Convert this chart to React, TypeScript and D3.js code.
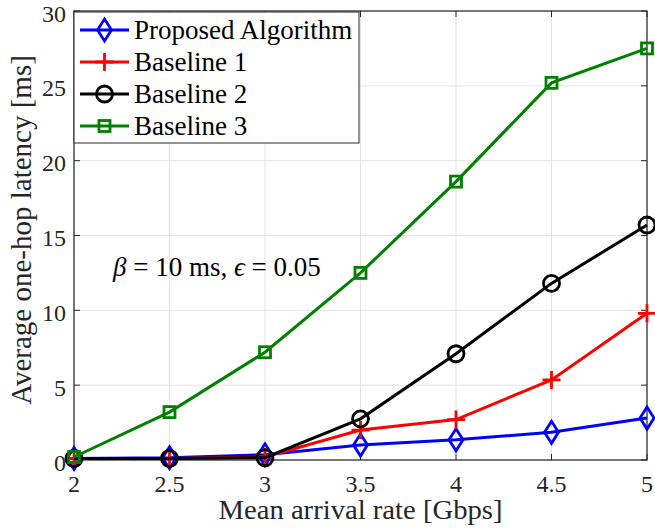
import React from "react";
import * as d3 from "d3";

const xValues = [2, 2.5, 3, 3.5, 4, 4.5, 5];
const proposed = [0.1, 0.15, 0.35, 1.0, 1.35, 1.85, 2.8];
const baseline1 = [0.1, 0.1, 0.2, 2.0, 2.7, 5.35, 9.8];
const baseline2 = [0.1, 0.1, 0.15, 2.75, 7.1, 11.8, 15.7];
const baseline3 = [0.2, 3.2, 7.2, 12.5, 18.6, 25.2, 27.5];
const seriesNames = ["Proposed Algorithm", "Baseline 1", "Baseline 2", "Baseline 3"];
const xTicks = [2, 2.5, 3, 3.5, 4, 4.5, 5];
const yTicks = [0, 5, 10, 15, 20, 25, 30];

const W = 655, H = 528;
const L = 74, R = 647, T = 11, B = 460;
const font = "'Liberation Serif', 'Times New Roman', serif";

const x = d3.scaleLinear().domain([2, 5]).range([L, R]);
const y = d3.scaleLinear().domain([0, 30]).range([B, T]);

const series = [
  { name: seriesNames[0], values: proposed, color: "#0000ff", marker: "diamond" },
  { name: seriesNames[1], values: baseline1, color: "#ff0000", marker: "plus" },
  { name: seriesNames[2], values: baseline2, color: "#000000", marker: "circle" },
  { name: seriesNames[3], values: baseline3, color: "#008000", marker: "square" },
];

function Marker({ type, cx, cy, color }: { type: string; cx: number; cy: number; color: string }) {
  const sw = 2.8;
  if (type === "diamond") {
    const w = 7, h = 11;
    return <path d={`M${cx},${cy - h}L${cx + w},${cy}L${cx},${cy + h}L${cx - w},${cy}Z`} fill="none" stroke={color} strokeWidth={sw} />;
  }
  if (type === "plus") {
    const s = 9;
    return <path d={`M${cx - s},${cy}H${cx + s}M${cx},${cy - s}V${cy + s}`} fill="none" stroke={color} strokeWidth={sw} />;
  }
  if (type === "circle") {
    return <circle cx={cx} cy={cy} r={8} fill="none" stroke={color} strokeWidth={sw} />;
  }
  const s = 5.5;
  return <rect x={cx - s} y={cy - s} width={2 * s} height={2 * s} fill="none" stroke={color} strokeWidth={sw} />;
}

export default function App() {
  const line = d3.line<number>().x((_, i) => x(xValues[i])).y((d) => y(d));
  return (
    <svg width={W} height={H} style={{ position: "absolute", left: 0, top: 0, background: "#fff" }}>
      <rect x={0} y={0} width={W} height={H} fill="#fff" />
      {/* grid */}
      {xTicks.map((t) => (
        <line key={"gx" + t} x1={x(t)} x2={x(t)} y1={T} y2={B} stroke="#e3e3e3" strokeWidth={1} />
      ))}
      {yTicks.map((t) => (
        <line key={"gy" + t} x1={L} x2={R} y1={y(t)} y2={y(t)} stroke="#e3e3e3" strokeWidth={1} />
      ))}
      {/* ticks */}
      {xTicks.map((t) => (
        <g key={"tx" + t}>
          <line x1={x(t)} x2={x(t)} y1={B} y2={B - 6} stroke="#262626" />
          <line x1={x(t)} x2={x(t)} y1={T} y2={T + 6} stroke="#262626" />
        </g>
      ))}
      {yTicks.map((t) => (
        <g key={"ty" + t}>
          <line x1={L} x2={L + 6} y1={y(t)} y2={y(t)} stroke="#262626" />
          <line x1={R} x2={R - 6} y1={y(t)} y2={y(t)} stroke="#262626" />
        </g>
      ))}
      <rect x={L} y={T} width={R - L} height={B - T} fill="none" stroke="#262626" strokeWidth={1.2} />
      {/* tick labels */}
      {xTicks.map((t) => (
        <text key={"lx" + t} x={x(t)} y={B + 32} textAnchor="middle" fontFamily={font} fontSize={24} fill="#262626">
          {String(t)}
        </text>
      ))}
      {yTicks.map((t) => (
        <text key={"ly" + t} x={L - 8} y={y(t) + 10.5} textAnchor="end" fontFamily={font} fontSize={24} fill="#262626">
          {String(t)}
        </text>
      ))}
      <text x={(L + R) / 2} y={519} textAnchor="middle" fontFamily={font} fontSize={27} textLength={284} lengthAdjust="spacingAndGlyphs" fill="#262626">
        Mean arrival rate [Gbps]
      </text>
      <text transform={`translate(31,230) rotate(-90)`} textAnchor="middle" fontFamily={font} fontSize={29} fill="#262626">
        Average one-hop latency [ms]
      </text>
      {/* series */}
      {series.map((s) => (
        <g key={s.name}>
          <path d={line(s.values) || ""} fill="none" stroke={s.color} strokeWidth={3} />
          {s.values.map((v, i) => (
            <Marker key={i} type={s.marker} cx={x(xValues[i])} cy={y(v)} color={s.color} />
          ))}
        </g>
      ))}
      {/* annotation */}
      <text x={113} y={276} fontFamily={font} fontSize={27} fill="#000">
        <tspan fontStyle="italic">β</tspan> = 10 ms, <tspan fontStyle="italic">ϵ</tspan> = 0.05
      </text>
      {/* legend */}
      <rect x={74} y={12} width={285} height={131} fill="#fff" stroke="#262626" strokeWidth={1} />
      {series.map((s, i) => {
        const ly = 30 + i * 32;
        return (
          <g key={"lg" + s.name}>
            <line x1={80} x2={129} y1={ly} y2={ly} stroke={s.color} strokeWidth={3} />
            <Marker type={s.marker} cx={104.5} cy={ly} color={s.color} />
            <text x={134} y={ly + 9} fontFamily={font} fontSize={27} fill="#000">
              {s.name}
            </text>
          </g>
        );
      })}
    </svg>
  );
}
